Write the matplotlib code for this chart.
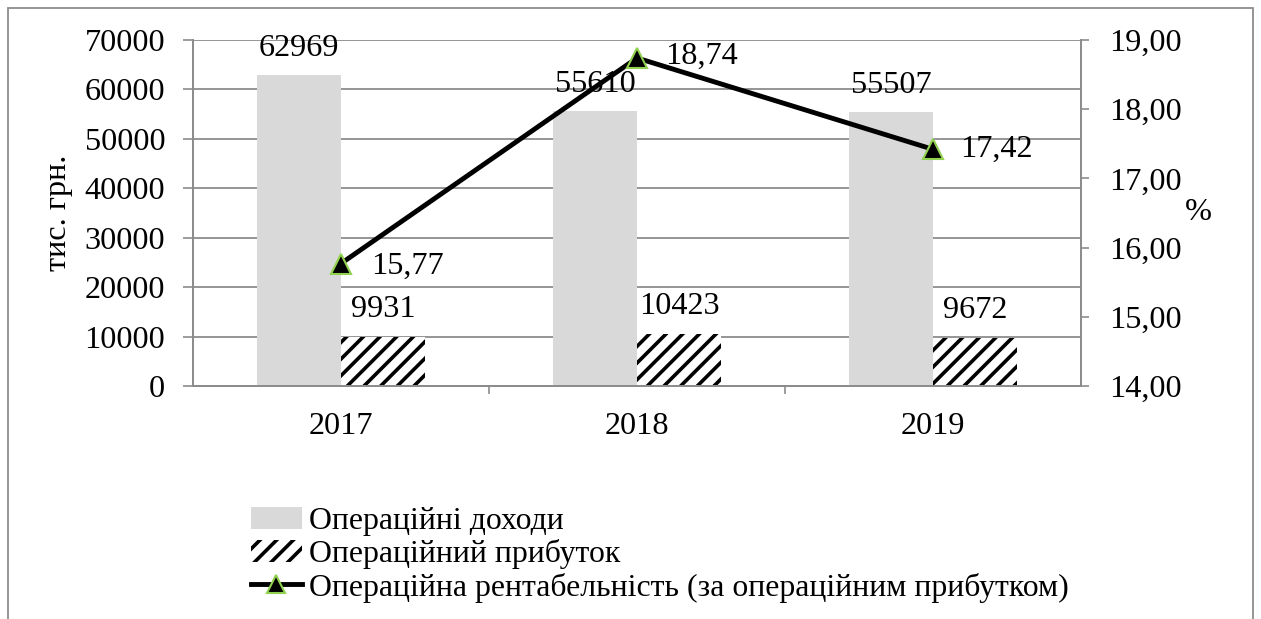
import matplotlib
matplotlib.use('Agg')
import matplotlib.pyplot as plt
import numpy as np
from matplotlib.patches import Patch, Rectangle
from matplotlib.lines import Line2D

years = ['2017', '2018', '2019']
income = [62969, 55610, 55507]
profit = [9931, 10423, 9672]
margin = [15.77, 18.74, 17.42]
left_ticks = [0, 10000, 20000, 30000, 40000, 50000, 60000, 70000]
right_ticks = [14.0, 15.0, 16.0, 17.0, 18.0, 19.0]
names = ['Операційні доходи', 'Операційний прибуток',
         'Операційна рентабельність (за операційним прибутком)']

plt.rcParams['font.family'] = ['Liberation Serif', 'DejaVu Serif']
plt.rcParams['hatch.linewidth'] = 2.6

W, H = 1261, 619
fs = 23.2
fig = plt.figure(figsize=(W / 100, H / 100), dpi=100)
ax = fig.add_axes([193 / W, 1 - 386 / H, 888 / W, 346 / H])
ax2 = ax.twinx()

grid_c = '#8c8c8c'
x = np.arange(len(years))
w = 0.284
ax.bar(x - w / 2, income, w, color='#d9d9d9', zorder=2)
ax.bar(x + w / 2, profit, w, color='white', edgecolor='black', linewidth=0,
       hatch='//', zorder=2)

ax.set_xlim(-0.5, 2.5)
ax.set_ylim(0, 70000)
ax.set_yticks(left_ticks)
ax.set_yticklabels([str(v) for v in left_ticks])
ax.yaxis.grid(True, color=grid_c, lw=1.3)
ax.set_axisbelow(True)
ax.tick_params(axis='y', length=7, color=grid_c, width=1.2, pad=13, labelsize=fs)
ax.set_xticks(x)
ax.set_xticklabels(years)
ax.tick_params(axis='x', length=0, pad=19, labelsize=fs)
ax.set_xticks([0.5, 1.5], minor=True)
ax.tick_params(axis='x', which='minor', length=6, color=grid_c, width=1.2)
ax.spines['top'].set_visible(False)
ax2.spines['top'].set_visible(False)
for s in ['left', 'right', 'bottom']:
    for a in (ax, ax2):
        a.spines[s].set_color(grid_c)
        a.spines[s].set_linewidth(1.3)
ax.set_ylabel('тис. грн.', fontsize=fs, labelpad=8)

# labels on bars
for xi, v in zip(x, income):
    ax.annotate(str(v), (xi - w / 2, v), xytext=(0, 19), textcoords='offset pixels',
                ha='center', va='baseline', fontsize=fs)
for xi, v in zip(x, profit):
    ax.annotate(str(v), (xi + w / 2, v), xytext=(0, 20), textcoords='offset pixels',
                ha='center', va='baseline', fontsize=fs)

# line on right axis
ax2.plot(x, margin, color='black', lw=3.5, marker='^', ms=14, mfc='black',
         mec='#92d050', mew=1.5, zorder=5)
ax2.set_ylim(14, 19)
ax2.set_yticks(right_ticks)
ax2.set_yticklabels([f'{v:.2f}'.replace('.', ',') for v in right_ticks])
ax2.tick_params(axis='y', length=6, color=grid_c, width=1.2, pad=14, labelsize=fs)
ax2.set_ylabel('%', fontsize=fs, rotation=0, labelpad=12, va='center')
mar_off = [(30, -3), (28, 2), (27, 0)]
for xi, v, o in zip(x, margin, mar_off):
    ax2.annotate(f'{v:.2f}'.replace('.', ','), (xi, v), xytext=o,
                 textcoords='offset pixels', ha='left', va='center', fontsize=fs)

# legend
handles = [Patch(facecolor='#d9d9d9', edgecolor='none'),
           Patch(facecolor='white', edgecolor='black', linewidth=0, hatch='//'),
           Line2D([], [], color='black', lw=3.5, marker='^', ms=13, mfc='black',
                  mec='#92d050', mew=1.5)]
fig.legend(handles, names, loc='upper left', bbox_to_anchor=(251 / W, 1 - 507 / H),
           frameon=False, fontsize=fs - 0.3, handlelength=1.6, handletextpad=0.22,
           labelspacing=0.1, borderpad=0, borderaxespad=0)

# outer frame
fig.add_artist(Rectangle((8 / W, -0.05), 1245 / W, 1.05 - 8 / H, fill=False,
                         edgecolor=grid_c, lw=1.3, transform=fig.transFigure))

fig.savefig('out.png', dpi=100)
